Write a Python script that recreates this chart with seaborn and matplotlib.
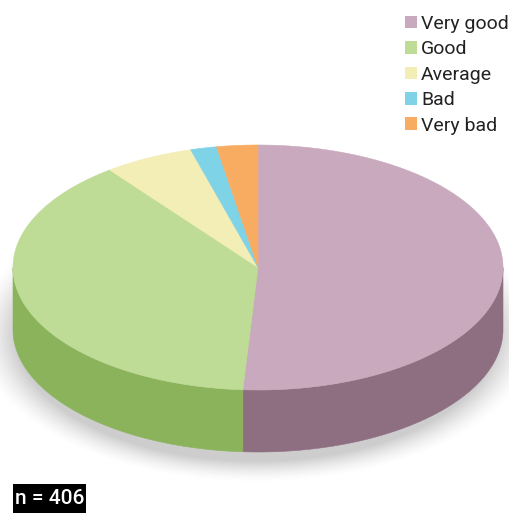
import numpy as np
import matplotlib
matplotlib.use("Agg")
import matplotlib.pyplot as plt
from matplotlib.patches import Polygon, Patch, Rectangle
import seaborn as sns

# Survey answers (n = 406)
categories = ["Very good", "Good", "Average", "Bad", "Very bad"]
counts = [207, 157, 24, 7, 11]
top_colors = ["#C9A9BD", "#BEDC95", "#F2EEB6", "#7FD3E7", "#F8AC62"]
side_colors = ["#8E6F82", "#8BB35B", "#C9C58C", "#5BA9BB", "#C98540"]
sample_label = "n = 406"

sns.set_theme(style="white")
plt.rcParams["font.family"] = ["Roboto", "DejaVu Sans"]

W, H = 510, 513
fig = plt.figure(figsize=(W / 100, H / 100), dpi=100)
ax = fig.add_axes([0, 0, 1, 1])
ax.set_xlim(0, W)
ax.set_ylim(H, 0)
ax.axis("off")

# ellipse of the pie top and the height of the cylinder wall
cx, cy, rx, ry, depth = 258, 267.5, 245, 122.5, 62


def arc(t0, t1, dy=0.0, n=200):
    t = np.radians(np.linspace(t0, t1, n))
    return np.column_stack([cx + rx * np.sin(t), cy - ry * np.cos(t) + dy])


# soft drop shadow under the disc
gx, gy = np.meshgrid(np.arange(W), np.arange(H))
sx, sy, srx, sry = cx - 2, cy + depth + 4, rx + 6, ry + 10
d = np.sqrt(((gx - sx) / srx) ** 2 + ((gy - sy) / sry) ** 2)
alpha = np.clip((1.12 - d) / 0.16, 0, 1) ** 1.5 * 0.35
shadow = np.zeros((H, W, 4))
shadow[..., :3] = 0.45
shadow[..., 3] = alpha
ax.imshow(shadow, extent=(0, W, H, 0), zorder=0, interpolation="bilinear")

# slice angles, clockwise from twelve o'clock
fracs = np.array(counts) / np.sum(counts)
edges = np.concatenate([[0], np.cumsum(fracs) * 360])

# cylinder wall (front half only)
for i in range(len(categories)):
    lo, hi = max(edges[i], 90), min(edges[i + 1], 270)
    if hi <= lo:
        continue
    top = arc(lo, hi)
    bot = arc(lo, hi, dy=depth)[::-1]
    ax.add_patch(Polygon(np.vstack([top, bot]), closed=True,
                         facecolor=side_colors[i], edgecolor=side_colors[i],
                         linewidth=0.4, zorder=2))

# top face wedges
for i in range(len(categories)):
    pts = np.vstack([[cx, cy], arc(edges[i], edges[i + 1])])
    ax.add_patch(Polygon(pts, closed=True, facecolor=top_colors[i],
                         edgecolor=top_colors[i], linewidth=0.4, zorder=3))

handles = [Patch(facecolor=c, edgecolor="none") for c in top_colors]
ax.legend(handles, categories, loc="upper left",
          bbox_to_anchor=(405 / W, 1 - 15 / H), frameon=False,
          fontsize=14, handlelength=0.62, handleheight=0.62,
          handletextpad=0.2, labelspacing=0.38, borderpad=0,
          borderaxespad=0, labelcolor="#222222")

ax.add_patch(Rectangle((13, 484), 73, 30, facecolor="black",
                       edgecolor="none", zorder=5))
ax.text(49.5, 499, sample_label, color="white", fontsize=15,
        fontweight="medium", ha="center", va="center", zorder=6)

fig.savefig("out.png", dpi=100)
